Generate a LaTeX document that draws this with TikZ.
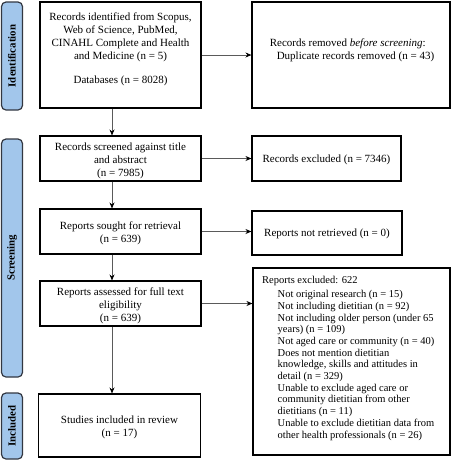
\documentclass[tikz,border=0pt]{standalone}
\usepackage{fontspec}
\setmainfont{Liberation Serif}
\usetikzlibrary{arrows.meta}
\definecolor{sideblue}{RGB}{162,198,235}
\definecolor{sideedge}{RGB}{50,55,65}
\definecolor{arrgray}{RGB}{90,90,90}
\begin{document}
\begin{tikzpicture}[x=1pt,y=-1pt,
  box/.style={draw=black,line width=1.1pt,inner sep=0pt,align=center,
    font=\fontsize{11}{13}\selectfont},
  txt/.style={inner sep=0pt,align=center,font=\fontsize{11}{13}\selectfont},
  sidebox/.style={draw=sideedge,fill=sideblue,line width=1.2pt,rounded corners=4.5pt,
    inner sep=0pt},
  sidetext/.style={rotate=90,font=\fontsize{10.8}{12}\selectfont\bfseries},
  arr/.style={draw=arrgray,line width=0.8pt,-{Stealth[length=6pt,width=5pt,black]}}
]
\useasboundingbox (0,0) rectangle (451,464);
% side labels
\node[sidebox,minimum width=21pt,minimum height=108pt] (sid) at (12,56) {};
\node[sidetext] (tid) at (sid.center) {Identification};
\node[sidebox,minimum width=21pt,minimum height=238pt] (ssc) at (12,258) {};
\node[sidetext] (tsc) at (ssc.center) {Screening};
\node[sidebox,minimum width=21pt,minimum height=66pt] (sin) at (12,426) {};
\node[sidetext] (tin) at (sin.center) {Included};
% left column
\node[box,minimum width=161pt,minimum height=106pt] (b1) at (120.5,55) {};
\node[txt] (b1t) at (120.5,49.5)
  {Records identified from Scopus,\\Web of Science, PubMed,\\CINAHL Complete and Health\\and Medicine (n = 5)\\[11pt]Databases (n = 8028)};
\node[box,minimum width=161pt,minimum height=45pt] (b2) at (120.5,158.5) {};
\node[txt] (b2t) at (120.5,160.5)
  {Records screened against title\\and abstract\\(n = 7985)};
\node[box,minimum width=161pt,minimum height=45pt] (b3) at (120.5,231.5) {};
\node[txt] (b3t) at (120.5,233)
  {Reports sought for retrieval\\(n = 639)};
\node[box,minimum width=161pt,minimum height=45pt] (b4) at (120.5,303.5) {};
\node[txt] (b4t) at (120.5,305.5)
  {Reports assessed for full text\\eligibility\\(n = 639)};
\node[box,minimum width=162pt,minimum height=63pt] (b5) at (119.5,425.5) {};
\node[txt] (b5t) at (119.5,427)
  {Studies included in review\\(n = 17)};
% right column
\node[box,minimum width=198pt,minimum height=106pt] (r1) at (351,55) {};
\node[txt,align=left] (r1t) at (352,50)
  {Records removed \textit{before screening}:\\\hspace*{7pt}Duplicate records removed (n = 43)};
\node[box,minimum width=149pt,minimum height=45pt] (r2) at (326.5,158.5) {};
\node[txt] (r2t) at (326.5,160) {Records excluded (n = 7346)};
\node[box,minimum width=150pt,minimum height=44pt] (r3) at (327,233) {};
\node[txt] (r3t) at (327,234) {Reports not retrieved (n = 0)};
\node[box,minimum width=197pt,minimum height=187pt] (r4) at (351.5,361.5) {};
\node[anchor=north west,inner sep=0pt,align=left,font=\fontsize{10.5}{11.67}\selectfont] (r4t) at (262,276.5)
  {Reports excluded: 622\\[2.3pt]
   \hspace*{15.5pt}Not original research (n = 15)\\
   \hspace*{15.5pt}Not including dietitian (n = 92)\\
   \hspace*{15.5pt}Not including older person (under 65\\
   \hspace*{15.5pt}years) (n = 109)\\
   \hspace*{15.5pt}Not aged care or community (n = 40)\\
   \hspace*{15.5pt}Does not mention dietitian\\
   \hspace*{15.5pt}knowledge, skills and attitudes in\\
   \hspace*{15.5pt}detail (n = 329)\\
   \hspace*{15.5pt}Unable to exclude aged care or\\
   \hspace*{15.5pt}community dietitian from other\\
   \hspace*{15.5pt}dietitians (n = 11)\\
   \hspace*{15.5pt}Unable to exclude dietitian data from\\
   \hspace*{15.5pt}other health professionals (n = 26)};
% connectors
\coordinate (xc) at (112,0);
\draw[arr] (b1.south -| xc) -- (b2.north -| xc);
\draw[arr] (b2.south -| xc) -- (b3.north -| xc);
\draw[arr] (b3.south -| xc) -- (b4.north -| xc);
\draw[arr] (b4.south -| xc) -- (b5.north -| xc);
\draw[arr] (b1.east) -- (b1.east -| r1.west);
\draw[arr] (b2.east) -- (b2.east -| r2.west);
\draw[arr] (b3.east) -- (b3.east -| r3.west);
\draw[arr] (b4.east) -- (b4.east -| r4.west);
\end{tikzpicture}
\end{document}
